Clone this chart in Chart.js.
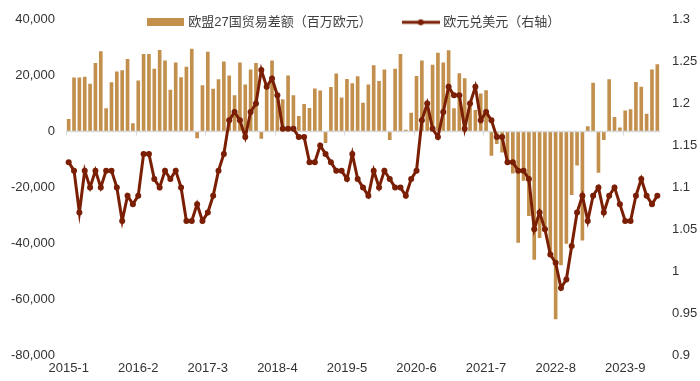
<!DOCTYPE html>
<html>
<head>
<meta charset="utf-8">
<script src="https://cdn.jsdelivr.net/npm/chart.js@4.4.1/dist/chart.umd.min.js"></script>
<style>
html,body{margin:0;padding:0;background:#ffffff;}
#wrap{width:700px;height:381px;position:relative;}
</style>
</head>
<body>
<div id="wrap"><canvas id="c" width="700" height="381"></canvas></div>
<script>
const months = [
 '2015-1','2015-2','2015-3','2015-4','2015-5','2015-6','2015-7','2015-8','2015-9','2015-10','2015-11','2015-12',
 '2016-1','2016-2','2016-3','2016-4','2016-5','2016-6','2016-7','2016-8','2016-9','2016-10','2016-11','2016-12',
 '2017-1','2017-2','2017-3','2017-4','2017-5','2017-6','2017-7','2017-8','2017-9','2017-10','2017-11','2017-12',
 '2018-1','2018-2','2018-3','2018-4','2018-5','2018-6','2018-7','2018-8','2018-9','2018-10','2018-11','2018-12',
 '2019-1','2019-2','2019-3','2019-4','2019-5','2019-6','2019-7','2019-8','2019-9','2019-10','2019-11','2019-12',
 '2020-1','2020-2','2020-3','2020-4','2020-5','2020-6','2020-7','2020-8','2020-9','2020-10','2020-11','2020-12',
 '2021-1','2021-2','2021-3','2021-4','2021-5','2021-6','2021-7','2021-8','2021-9','2021-10','2021-11','2021-12',
 '2022-1','2022-2','2022-3','2022-4','2022-5','2022-6','2022-7','2022-8','2022-9','2022-10','2022-11','2022-12',
 '2023-1','2023-2','2023-3','2023-4','2023-5','2023-6','2023-7','2023-8','2023-9','2023-10','2023-11','2023-12',
 '2024-1','2024-2','2024-3'
];
// 欧盟27国贸易差额（百万欧元）
const tradeBalance = [
 4500, 19300, 19300, 19600, 17100, 24500, 28750, 8300, 17600, 21500, 21900, 26000,
 3000, 18300, 27800, 27800, 22500, 29200, 25400, 15000, 24700, 19400, 23200, 29600,
 -2400, 16600, 28600, 15300, 18700, 25100, 20100, 13000, 24700, 16800, 22200, 24500,
 -2600, 15500, 25400, 13000, 11600, 20100, 13000, 5600, 9900, 8400, 15400, 14700,
 -4100, 15900, 20800, 12200, 18800, 17300, 19800, 10300, 16800, 23700, 18100, 22200,
 -3000, 22500, 27800, 600, 6700, 19900, 25400, 11000, 23900, 28200, 24700, 29100,
 8300, 20900, 19100, 10500, 7700, 13600, 14800, -8700, -4500, -7500, -11500, -15000,
 -39800, -17600, -30200, -45900, -38100, -35500, -43800, -67200, -47900, -40200, -22700, -12200,
 -39000, 1900, 17500, -14800, -3000, 18700, 5200, 1400, 7500, 8000, 17750, 16000,
 6400, 22200, 24100
];
// 欧元兑美元（右轴）
const eurusd = [
 1.13, 1.12, 1.07, 1.12, 1.10, 1.12, 1.10, 1.12, 1.12, 1.10, 1.06, 1.09,
 1.08, 1.09, 1.14, 1.14, 1.11, 1.10, 1.12, 1.11, 1.12, 1.10, 1.06, 1.06,
 1.08, 1.06, 1.07, 1.09, 1.12, 1.14, 1.18, 1.19, 1.18, 1.16, 1.19, 1.20,
 1.24, 1.22, 1.23, 1.21, 1.17, 1.17, 1.17, 1.16, 1.16, 1.13, 1.13, 1.15,
 1.14, 1.13, 1.12, 1.12, 1.11, 1.14, 1.11, 1.10, 1.09, 1.12, 1.10, 1.12,
 1.11, 1.10, 1.10, 1.09, 1.11, 1.12, 1.18, 1.20, 1.17, 1.16, 1.19, 1.22,
 1.21, 1.21, 1.17, 1.20, 1.22, 1.18, 1.19, 1.18, 1.16, 1.16, 1.13, 1.13,
 1.12, 1.12, 1.11, 1.05, 1.07, 1.05, 1.02, 1.01, 0.98, 0.99, 1.03, 1.07,
 1.09, 1.06, 1.09, 1.10, 1.07, 1.09, 1.10, 1.08, 1.06, 1.06, 1.09, 1.11,
 1.09, 1.08, 1.09
];
const leftTicks = [40000, 20000, 0, -20000, -40000, -60000, -80000];
const rightTicks = [1.3, 1.25, 1.2, 1.15, 1.1, 1.05, 1, 0.95, 0.9];
const labelEvery = 13;
const seriesNames = ['欧盟27国贸易差额（百万欧元）', '欧元兑美元（右轴）'];

const BAR_COLOR = '#C28F4C';
const LINE_COLOR = '#7A1F04';
const TICK_FONT = {family: "'Liberation Sans Narrow','Liberation Sans',Arial,sans-serif", size: 13};
const TICK_COLOR = '#333333';

function makeBarIcon() {
  const c = document.createElement('canvas');
  c.width = 37; c.height = 8;
  const g = c.getContext('2d');
  g.fillStyle = BAR_COLOR; g.fillRect(0, 0, 37, 8);
  return c;
}
function makeLineIcon() {
  const c = document.createElement('canvas');
  c.width = 38; c.height = 8;
  const g = c.getContext('2d');
  g.strokeStyle = LINE_COLOR; g.lineWidth = 3;
  g.beginPath(); g.moveTo(0, 4); g.lineTo(38, 4); g.stroke();
  g.fillStyle = LINE_COLOR;
  g.beginPath(); g.arc(19, 4, 3, 0, Math.PI * 2); g.fill();
  return c;
}
const icons = [makeBarIcon(), makeLineIcon()];

function fmtThousands(v) {
  const s = String(Math.abs(v)).replace(/\B(?=(\d{3})+(?!\d))/g, ',');
  return (v < 0 ? '-' : '') + s;
}

// let the legend draw outside its (shortened) layout box
const legendNoClip = {
  id: 'legendNoClip',
  afterInit(chart) {
    const lg = chart.legend;
    if (lg && typeof lg._draw === 'function') {
      lg.draw = function () { if (this.options.display) { this._draw(); } };
    }
  }
};

const zeroLinePlugin = {
  id: 'zeroLine',
  afterDatasetDraw(chart, args) {
    if (args.index !== 0) return;
    const ctx = chart.ctx;
    const {left, right} = chart.chartArea;
    const x = chart.scales.x, y = chart.scales.y;
    const y0 = y.getPixelForValue(0);
    ctx.save();
    ctx.strokeStyle = '#D9D9D9';
    ctx.lineWidth = 1.5;
    ctx.beginPath(); ctx.moveTo(left, y0); ctx.lineTo(right, y0); ctx.stroke();
    const step = x.getPixelForValue(1) - x.getPixelForValue(0);
    const start = x.getPixelForValue(0) - step / 2;
    ctx.lineWidth = 1;
    ctx.beginPath();
    for (let i = 0; i <= months.length; i += labelEvery) {
      const px = Math.round(start + i * step) + 0.5;
      ctx.moveTo(px, y0); ctx.lineTo(px, y0 + 4);
    }
    ctx.stroke();
    ctx.restore();
  }
};

new Chart(document.getElementById('c'), {
  data: {
    labels: months,
    datasets: [
      {
        type: 'bar',
        label: seriesNames[0],
        data: tradeBalance,
        backgroundColor: BAR_COLOR,
        borderWidth: 0,
        yAxisID: 'y',
        order: 1,
        categoryPercentage: 1,
        barPercentage: 0.68
      },
      {
        type: 'line',
        label: seriesNames[1],
        data: eurusd,
        borderColor: LINE_COLOR,
        backgroundColor: LINE_COLOR,
        borderWidth: 3,
        pointRadius: 3,
        pointBorderWidth: 0,
        pointBackgroundColor: LINE_COLOR,
        tension: 0,
        yAxisID: 'y1',
        order: 0
      }
    ]
  },
  options: {
    responsive: false,
    animation: false,
    devicePixelRatio: 1,
    layout: {padding: {top: -20, left: 10, right: 0, bottom: 0}},
    plugins: {
      tooltip: {enabled: false},
      legend: {
        position: 'top',
        align: 'center',
        maxHeight: 37,
        labels: {
          usePointStyle: true,
          pointStyleWidth: 32,
          boxHeight: 8,
          padding: 33,
          color: '#404040',
          font: {family: "'Liberation Sans','Noto Sans CJK SC',sans-serif", size: 13},
          generateLabels(chart) {
            const items = Chart.defaults.plugins.legend.labels.generateLabels(chart);
            items.sort((a, b) => a.datasetIndex - b.datasetIndex);
            items.forEach(it => { it.pointStyle = icons[it.datasetIndex]; });
            return items;
          }
        }
      }
    },
    scales: {
      x: {
        type: 'category',
        offset: true,
        grid: {display: false, drawTicks: false},
        border: {display: false},
        ticks: {
          autoSkip: false,
          maxRotation: 0,
          minRotation: 0,
          padding: 6,
          color: TICK_COLOR,
          font: TICK_FONT,
          callback: (val, idx) => (idx % labelEvery === 0 ? months[idx] : '')
        },
        afterFit: s => { s.height = 26; }
      },
      y: {
        type: 'linear',
        position: 'left',
        min: -80000,
        max: 40000,
        grid: {display: false, drawTicks: false},
        border: {display: false},
        afterBuildTicks: s => { s.ticks = leftTicks.map(v => ({value: v})); },
        ticks: {padding: 11, color: TICK_COLOR, font: TICK_FONT, callback: v => fmtThousands(v)},
        afterFit: s => { s.width = 56; }
      },
      y1: {
        type: 'linear',
        position: 'right',
        min: 0.9,
        max: 1.3,
        grid: {display: false, drawTicks: false},
        border: {display: false},
        afterBuildTicks: s => { s.ticks = rightTicks.map(v => ({value: v})); },
        ticks: {padding: 12, color: TICK_COLOR, font: TICK_FONT, callback: v => String(parseFloat(Number(v).toFixed(2)))},
        afterFit: s => { s.width = 40; }
      }
    }
  },
  plugins: [legendNoClip, zeroLinePlugin]
});
</script>
</body>
</html>
